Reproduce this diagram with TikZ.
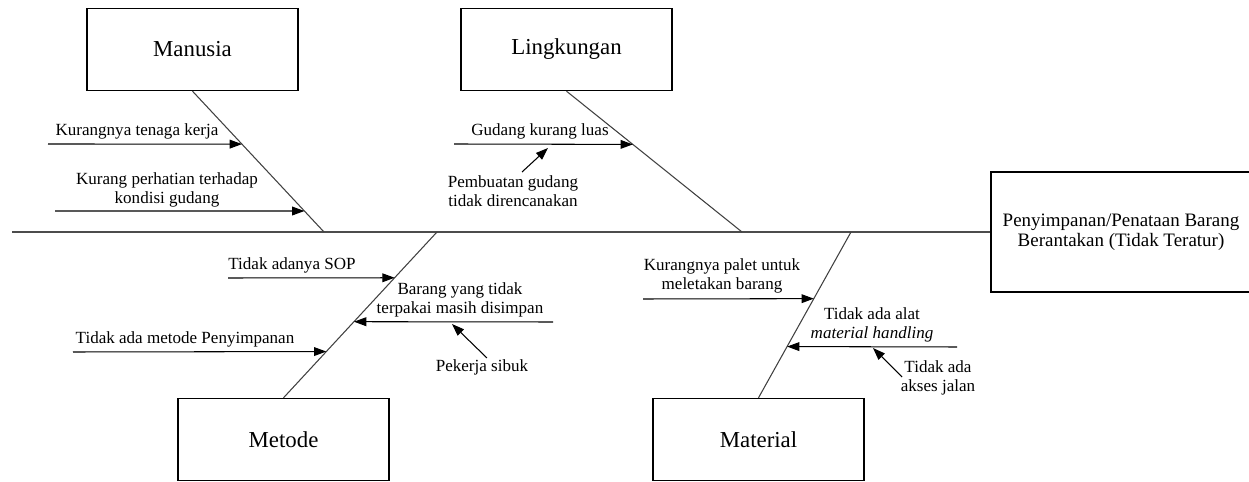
\documentclass[tikz,border=0pt]{standalone}
\usepackage{fontspec}
\setmainfont{Liberation Serif}
\usetikzlibrary{positioning,arrows.meta,calc}

\begin{document}
\begin{tikzpicture}[x=0.02cm,y=-0.02cm,
  catbox/.style={draw,line width=0.8pt,minimum width=4.22cm,minimum height=1.64cm,inner sep=0pt,font=\fontsize{13}{15}\selectfont},
  cause/.style={align=center,inner sep=0pt,font=\fontsize{9.7}{11}\selectfont},
  bone/.style={line width=0.6pt,black!75},
  causearrow/.style={-{Triangle[length=7pt,width=5pt]},line width=0.6pt}]
\useasboundingbox (0,0) rectangle (1249,482);
% head and spine
\node[draw,line width=0.8pt,minimum width=5.2cm,minimum height=2.4cm,align=center,font=\fontsize{10.8}{11.3}\selectfont] (effect) at (1121,232) {Penyimpanan/Penataan Barang\\Berantakan (Tidak Teratur)};
\coordinate (tail) at (12,232);
\draw[line width=1pt,black!70] (tail) -- (effect.west);
% category boxes and bones
\node[catbox] (manusia) at (192.5,49.5) {Manusia};
\node[catbox] (lingkungan) at (566.5,49.5) {Lingkungan};
\node[catbox] (metode) at (283.5,439.5) {Metode};
\node[catbox] (material) at (758.5,439.5) {Material};
\coordinate (jm) at (324,232);
\coordinate (jl) at (742,232);
\coordinate (jme) at (437,232);
\coordinate (jma) at (851,232);
\draw[bone] (manusia.south) -- (jm);
\draw[bone] (lingkungan.south) -- (jl);
\draw[bone] (metode.north) -- (jme);
\draw[bone] (material.north) -- (jma);
% manusia
\coordinate (m1) at ($(manusia.south)!0.376!(jm)$);
\coordinate (m2) at ($(manusia.south)!0.851!(jm)$);
\node[cause] (kt) at (137,131) {Kurangnya tenaga kerja};
\coordinate (kts) at (48,144);
\draw[causearrow] (kts) -- (m1);
\node[cause] (kp) at (167,190) {Kurang perhatian terhadap\\kondisi gudang};
\coordinate (kps) at (55,211);
\draw[causearrow] (kps) -- (m2);
% lingkungan
\coordinate (l1) at ($(lingkungan.south)!0.378!(jl)$);
\node[cause] (gk) at (540,131) {Gudang kurang luas};
\coordinate (gks) at (454,144);
\draw[causearrow] (gks) -- (l1);
\node[cause] (pg) at (513,191) {Pembuatan gudang\\tidak direncanakan};
\coordinate (pgs) at (522,172);
\coordinate (pge) at (548,148);
\draw[causearrow] (pgs) -- (pge);
% metode
\coordinate (me1) at ($(metode.north)!0.724!(jme)$);
\coordinate (me2) at ($(metode.north)!0.459!(jme)$);
\coordinate (me3) at ($(metode.north)!0.279!(jme)$);
\node[cause] (sop) at (292,265) {Tidak adanya SOP};
\coordinate (sops) at (228,278);
\draw[causearrow] (sops) -- (me1);
\node[cause] (bt) at (460,300) {Barang yang tidak\\terpakai masih disimpan};
\coordinate (bts) at (553,322);
\draw[causearrow] (bts) -- (me2);
\node[cause] (ps) at (482,367) {Pekerja sibuk};
\coordinate (pss) at (487,358);
\coordinate (pse) at (452,324);
\draw[causearrow] (pss) -- (pse);
\node[cause] (tm) at (185,339) {Tidak ada metode Penyimpanan};
\coordinate (tms) at (73,352);
\draw[causearrow] (tms) -- (me3);
% material
\coordinate (ma1) at ($(material.north)!0.598!(jma)$);
\coordinate (ma2) at ($(material.north)!0.309!(jma)$);
\node[cause] (kpu) at (722,276) {Kurangnya palet untuk\\meletakan barang};
\coordinate (kpus) at (643,299);
\draw[causearrow] (kpus) -- (ma1);
\node[cause] (ta) at (872,325) {Tidak ada alat\\\textit{material handling}};
\coordinate (tas) at (957,347);
\draw[causearrow] (tas) -- (ma2);
\node[cause] (aj) at (938,378) {Tidak ada\\akses jalan};
\coordinate (ajs) at (902,377);
\coordinate (aje) at (873,348);
\draw[causearrow] (ajs) -- (aje);
\end{tikzpicture}
\end{document}
